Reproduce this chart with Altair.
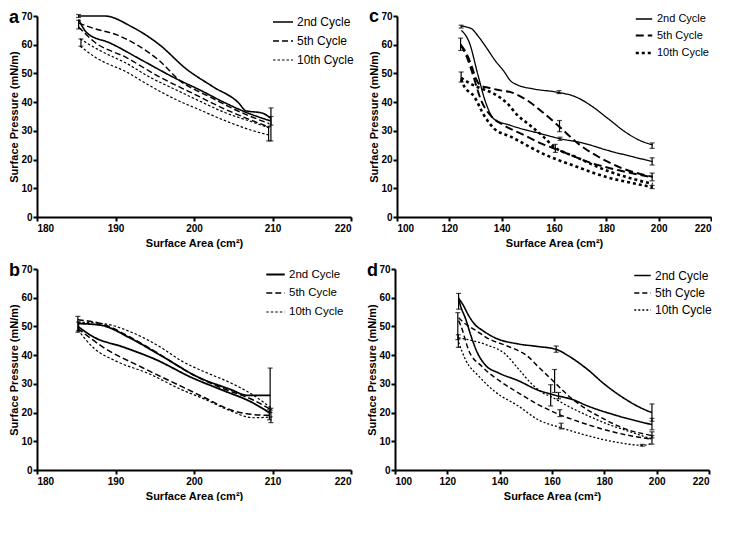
import altair as alt
import pandas as pd

CYCLES = ["2nd Cycle", "5th Cycle", "10th Cycle"]

# ---------------- panel a: (surface area cm², surface pressure mN/m) ----------------
A_2ND_COMP = [(185.3, 70.0), (188.6, 70.0), (192.1, 66.2), (195.6, 60.0), (199.0, 51.6), (202.4, 45.4),
              (205.7, 39.7), (206.6, 37.0), (208.7, 36.2), (209.7, 34.5)]
A_2ND_EXP = [(185.3, 68.8), (186.4, 64.0), (189.3, 60.6), (193.5, 54.4), (197.7, 48.2), (200.7, 44.3),
             (204.0, 39.7), (206.6, 36.5), (209.7, 33.5)]
A_5TH_COMP = [(185.3, 67.5), (187.2, 65.7), (190.2, 63.4), (192.7, 60.0), (195.6, 54.4), (198.2, 47.5),
              (201.9, 42.0), (206.1, 36.3), (209.6, 32.5)]
A_5TH_EXP = [(185.3, 66.2), (187.2, 61.2), (191.4, 55.5), (195.6, 48.8), (199.8, 43.1), (204.0, 37.5),
             (209.6, 31.3)]
A_10TH_COMP = [(185.5, 62.0), (188.0, 58.0), (191.4, 53.5), (194.5, 48.5), (197.7, 44.3), (201.0, 40.0),
               (204.0, 36.3), (207.0, 33.5), (209.6, 31.0)]
A_10TH_EXP = [(185.5, 59.5), (187.5, 55.5), (191.4, 50.5), (194.5, 45.5), (197.7, 40.9), (201.0, 37.0),
              (204.0, 33.5), (207.0, 30.5), (209.6, 28.5)]
A_ERR = [(185.3, 69.5, 70.5), (185.3, 65.5, 68.5), (185.6, 59.5, 62.0),
         (209.8, 32.0, 38.0), (209.5, 26.5, 31.5), (209.8, 26.5, 35.0)]

# ---------------- panel b ----------------
B_2ND_COMP = [(185.2, 51.0), (188.0, 50.5), (192.1, 45.6), (196.3, 39.0), (200.5, 32.4), (204.7, 28.0),
              (206.8, 26.0), (209.7, 26.0)]
B_2ND_EXP = [(185.2, 50.0), (187.3, 46.2), (190.9, 42.9), (195.1, 38.5), (199.7, 32.2), (203.9, 27.5),
             (207.2, 23.8), (209.7, 19.8)]
B_5TH_COMP = [(185.2, 52.3), (188.4, 50.8), (191.7, 46.5), (195.5, 40.5), (199.3, 34.0), (203.5, 28.6),
              (207.6, 24.3), (210.0, 20.7)]
B_5TH_EXP = [(185.2, 49.3), (188.4, 42.8), (193.4, 35.7), (198.4, 29.1), (201.5, 25.0), (204.3, 21.3),
             (207.6, 19.3), (210.0, 19.0)]
B_10TH_COMP = [(185.2, 51.5), (188.4, 51.0), (192.1, 47.9), (195.9, 42.5), (198.4, 38.0), (201.5, 34.0),
               (204.7, 30.3), (207.6, 26.0), (210.0, 21.2)]
B_10TH_EXP = [(185.2, 48.8), (187.3, 42.3), (190.0, 38.0), (194.2, 33.6), (198.4, 28.0), (201.5, 24.5),
              (204.3, 21.0), (207.6, 18.2), (210.0, 18.5)]
B_ERR = [(185.2, 48.0, 53.5), (185.3, 48.5, 51.5), (209.7, 20.0, 35.5),
         (209.8, 16.5, 21.5), (209.6, 17.5, 21.0)]

# ---------------- panel c ----------------
C_2ND_COMP = [(124.5, 66.5), (128.4, 65.6), (131.0, 63.0), (134.6, 58.4), (137.5, 54.5), (140.9, 50.7),
              (143.4, 47.4), (146.0, 46.0), (152.1, 44.6), (160.9, 43.5), (168.4, 41.8), (174.6, 38.5),
              (180.9, 34.1), (187.1, 29.7), (192.5, 26.8), (197.7, 25.1)]
C_2ND_EXP = [(124.6, 65.0), (127.7, 60.6), (130.9, 49.6), (134.0, 39.6), (137.1, 34.1), (143.4, 31.9),
             (154.6, 29.1), (162.1, 27.3), (170.9, 25.8), (180.9, 23.1), (190.0, 21.0), (197.7, 19.3)]
C_5TH_COMP = [(124.3, 60.0), (126.5, 57.0), (128.4, 52.9), (130.3, 47.9), (132.1, 45.7), (135.0, 45.0),
              (139.6, 44.1), (143.4, 43.5), (149.6, 40.7), (155.9, 36.3), (161.5, 31.9), (169.6, 25.3),
              (177.1, 20.9), (185.9, 17.0), (197.7, 14.0)]
C_5TH_EXP = [(124.3, 60.0), (125.3, 58.4), (127.0, 55.0), (129.0, 49.6), (132.1, 40.7), (135.9, 35.2),
             (140.9, 31.9), (148.4, 28.6), (155.9, 25.3), (160.9, 23.6), (174.6, 18.7), (186.0, 16.0),
             (197.7, 13.8)]
C_10TH_COMP = [(124.5, 48.5), (127.0, 47.0), (130.9, 45.2), (137.1, 42.9), (142.1, 39.6), (146.0, 35.5),
               (150.9, 31.9), (155.9, 28.0), (159.6, 24.7), (168.4, 20.9), (180.9, 15.9), (190.0, 13.3),
               (197.7, 11.5)]
C_10TH_EXP = [(124.5, 48.0), (125.3, 46.2), (129.6, 41.8), (133.4, 35.2), (137.1, 30.8), (143.4, 28.0),
              (155.9, 22.0), (168.4, 17.6), (180.9, 13.7), (190.0, 11.8), (197.7, 10.4)]
C_ERR = [(124.5, 65.8, 66.8), (124.3, 58.0, 62.3), (124.5, 47.0, 50.5),
         (161.9, 43.0, 44.0), (162.3, 26.7, 27.8), (162.1, 29.7, 33.6), (160.5, 22.5, 25.3),
         (197.5, 23.9, 25.8), (197.5, 18.1, 20.6), (197.5, 12.6, 15.3), (197.5, 9.9, 11.0)]

# ---------------- panel d ----------------
D_2ND_COMP = [(124.3, 59.8), (126.0, 57.5), (128.2, 53.7), (130.8, 50.4), (133.3, 48.7), (138.3, 46.0),
              (147.1, 43.9), (154.7, 43.0), (161.6, 42.0), (166.0, 39.9), (173.6, 35.0), (179.9, 30.0),
              (187.5, 25.0), (193.8, 21.7), (198.2, 20.0)]
D_2ND_EXP = [(124.3, 59.5), (125.1, 57.0), (127.0, 52.6), (128.9, 47.1), (131.4, 41.0), (134.6, 36.5),
             (139.6, 33.8), (147.1, 31.1), (154.7, 27.8), (161.0, 26.1), (168.6, 24.3), (172.3, 22.8),
             (185.0, 18.9), (198.2, 15.8)]
D_5TH_COMP = [(124.3, 53.0), (126.7, 51.0), (131.1, 48.5), (134.6, 46.3), (143.4, 43.0), (147.1, 41.6),
              (151.0, 39.4), (153.5, 37.1), (158.5, 32.7), (161.0, 30.5), (166.0, 26.1), (172.3, 21.7),
              (178.6, 18.4), (187.5, 14.5), (198.2, 12.0)]
D_5TH_EXP = [(124.3, 52.0), (125.1, 50.4), (128.2, 41.6), (133.3, 36.0), (140.8, 30.5), (147.1, 26.9),
             (154.7, 22.8), (162.3, 19.5), (172.3, 16.2), (185.0, 12.9), (198.2, 10.7)]
D_10TH_COMP = [(124.3, 46.0), (134.6, 43.7), (142.1, 40.4), (147.1, 35.3), (152.2, 30.0), (157.2, 26.5),
               (159.7, 25.5), (166.0, 22.3), (172.3, 19.5), (182.4, 15.6), (191.3, 12.9), (198.2, 10.7)]
D_10TH_EXP = [(124.3, 44.5), (127.0, 38.3), (132.0, 32.7), (138.3, 27.2), (147.1, 22.3), (154.7, 17.5),
              (163.5, 14.7), (172.3, 12.3), (185.0, 9.6), (194.4, 8.6), (198.2, 9.2)]
D_ERR = [(124.3, 56.0, 61.5), (124.0, 45.4, 54.8), (124.2, 42.7, 47.1),
         (161.6, 41.0, 43.2), (162.5, 24.8, 27.0), (161.0, 27.0, 35.0), (159.5, 22.3, 29.7),
         (163.0, 18.6, 21.0), (163.5, 14.3, 16.3),
         (198.2, 17.0, 23.0), (198.2, 14.0, 18.0), (198.2, 11.2, 13.3), (198.2, 9.0, 12.0),
         (194.5, 8.3, 8.9)]

Y_TICKS = [0, 10, 20, 30, 40, 50, 60, 70]
X_TICKS_AB = [180, 190, 200, 210, 220]
X_TICKS_CD = [100, 120, 140, 160, 180, 200, 220]

FONT = "Liberation Sans"
W, H = 314, 201


def lines_df(groups):
    rows = []
    for cycle, branch, pts in groups:
        for x, y in pts:
            rows.append({"cycle": cycle, "branch": f"{cycle}-{branch}", "x": x, "y": y})
    return pd.DataFrame(rows)


def err_df(errs):
    return pd.DataFrame([{"x": x, "y": lo, "y2": hi} for x, lo, hi in errs])


def panel(letter, groups, errs, xticks, widths, dashes, sym_size, label_size, row_pad, leg_dx, leg_y):
    xdom = [xticks[0], xticks[-1]]
    xenc = alt.X("x:Q", scale=alt.Scale(domain=xdom, nice=False, zero=False),
                 axis=alt.Axis(values=xticks, title="Surface Area (cm²)", titlePadding=4))
    yenc = alt.Y("y:Q", scale=alt.Scale(domain=[0, 70], nice=False),
                 axis=alt.Axis(values=Y_TICKS, title="Surface Pressure (mN/m)", titlePadding=1,
                               labelPadding=1))
    leg = alt.Legend(title=None, orient="none", legendX=W - leg_dx, legendY=leg_y, padding=0,
                     symbolType="stroke", symbolStrokeColor="black", symbolSize=sym_size,
                     labelFont=FONT, labelFontSize=label_size, labelColor="black",
                     labelFontWeight="normal", rowPadding=row_pad, labelOffset=3)
    line = alt.Chart(lines_df(groups)).mark_line(color="black", interpolate="monotone").encode(
        x=xenc, y=yenc,
        strokeDash=alt.StrokeDash("cycle:N", scale=alt.Scale(domain=CYCLES, range=dashes), legend=leg),
        strokeWidth=alt.StrokeWidth("cycle:N", scale=alt.Scale(domain=CYCLES, range=widths), legend=leg),
        detail="branch:N",
    )
    bars = alt.Chart(err_df(errs)).mark_errorbar(
        ticks={"size": 5, "thickness": 1.2}, color="black", thickness=1.2
    ).encode(x=xenc, y=yenc, y2="y2:Q")
    return alt.layer(line, bars).properties(
        width=W, height=H,
        title=alt.TitleParams(letter, anchor="start", fontSize=18, fontWeight="bold", font=FONT,
                              color="black", offset=-16),
    )


pa = panel("a", [(CYCLES[0], "c", A_2ND_COMP), (CYCLES[0], "e", A_2ND_EXP),
                 (CYCLES[1], "c", A_5TH_COMP), (CYCLES[1], "e", A_5TH_EXP),
                 (CYCLES[2], "c", A_10TH_COMP), (CYCLES[2], "e", A_10TH_EXP)],
           A_ERR, X_TICKS_AB, [1.6, 1.2, 1.2], [[1, 0], [6, 3], [2.5, 2]], 400, 12, 2, 79, -5)
pb = panel("b", [(CYCLES[0], "c", B_2ND_COMP), (CYCLES[0], "e", B_2ND_EXP),
                 (CYCLES[1], "c", B_5TH_COMP), (CYCLES[1], "e", B_5TH_EXP),
                 (CYCLES[2], "c", B_10TH_COMP), (CYCLES[2], "e", B_10TH_EXP)],
           B_ERR, X_TICKS_AB, [1.8, 1.2, 1.2], [[1, 0], [6, 3], [2.5, 2]], 340, 11.5, 3, 86, -5)
pc = panel("c", [(CYCLES[0], "c", C_2ND_COMP), (CYCLES[0], "e", C_2ND_EXP),
                 (CYCLES[1], "c", C_5TH_COMP), (CYCLES[1], "e", C_5TH_EXP),
                 (CYCLES[2], "c", C_10TH_COMP), (CYCLES[2], "e", C_10TH_EXP)],
           C_ERR, X_TICKS_CD, [1.3, 2.6, 2.6], [[1, 0], [8, 4], [3, 3]], 270, 11, 2, 77, -6)
pd_ = panel("d", [(CYCLES[0], "c", D_2ND_COMP), (CYCLES[0], "e", D_2ND_EXP),
                  (CYCLES[1], "c", D_5TH_COMP), (CYCLES[1], "e", D_5TH_EXP),
                  (CYCLES[2], "c", D_10TH_COMP), (CYCLES[2], "e", D_10TH_EXP)],
            D_ERR, X_TICKS_CD, [1.6, 1.3, 1.2], [[1, 0], [5, 3], [2, 2]], 270, 12, 2, 76, -3)

IND = dict(strokeDash="independent", strokeWidth="independent")


def row(left, right):
    return alt.hconcat(left, right, spacing=14).resolve_scale(**IND).resolve_legend(**IND)


chart = alt.vconcat(row(pa, pc), row(pb, pd_), spacing=14).resolve_scale(**IND).resolve_legend(
    **IND
).properties(padding=0).configure_view(stroke=None).configure_axis(
    domainColor="black", domainWidth=2, tickColor="black", tickWidth=2, tickSize=4,
    labelFont=FONT, labelFontWeight="bold", labelFontSize=10, labelColor="black", labelPadding=2,
    titleFont=FONT, titleFontWeight="bold", titleFontSize=11, titleColor="black",
    grid=False,
)

chart.save("out.html", embed_options={"renderer": "svg", "actions": False})
